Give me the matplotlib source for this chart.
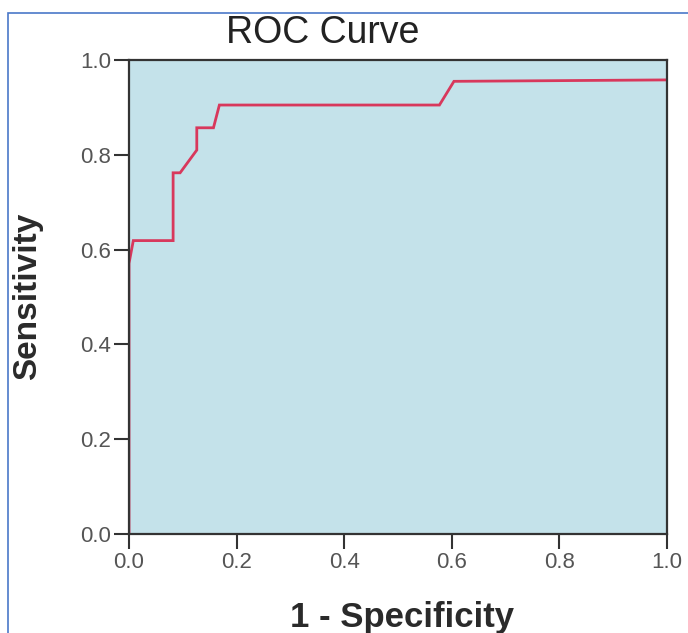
import matplotlib.pyplot as plt
from matplotlib.patches import Rectangle

# ROC curve points (1 - specificity, sensitivity)
fpr = [0.0, 0.0, 0.008, 0.082, 0.082, 0.095, 0.126, 0.126, 0.157, 0.168, 0.577, 0.604, 1.0]
tpr = [0.0, 0.571, 0.619, 0.619, 0.762, 0.762, 0.810, 0.857, 0.857, 0.905, 0.905, 0.955, 0.958]
ticks = [0.0, 0.2, 0.4, 0.6, 0.8, 1.0]
tick_labels = ["0.0", "0.2", "0.4", "0.6", "0.8", "1.0"]

plt.rcParams['font.family'] = ['Liberation Sans', 'DejaVu Sans']

fig = plt.figure(figsize=(6.88, 6.33), dpi=100)
ax = fig.add_axes([129 / 688, 1 - 534 / 633, 538 / 688, 474 / 633])
ax.set_facecolor("#c4e2ea")

ax.plot(fpr, tpr, color="#d8385c", lw=2.0, solid_joinstyle="miter")

ax.set_xlim(0, 1)
ax.set_ylim(0, 1)
ax.set_xticks(ticks)
ax.set_xticklabels(tick_labels)
ax.set_yticks(ticks)
ax.set_yticklabels(tick_labels)
ax.tick_params(direction="out", length=11, width=1.5, colors="#333333",
               labelcolor="#555555", labelsize=16, pad=2)
for s in ax.spines.values():
    s.set_color("#333333")
    s.set_linewidth(1.6)

fig.text(323 / 688, 1 - 43 / 633, "ROC Curve", fontsize=27, color="#222222",
         ha="center", va="baseline")
fig.text(12 / 688, 1 - 296 / 633, "Sensitivity", fontsize=24, fontweight="bold",
         color="#2a2a2a", rotation=90, ha="left", va="center")
fig.text(402 / 688, 6 / 633, "1 - Specificity", fontsize=25, fontweight="bold",
         color="#2a2a2a", ha="center", va="baseline")

# blue frame from the screenshot
fig.patches.append(Rectangle((8 / 688, -0.01), 1.0, 1 - 13 / 633 + 0.01,
                             transform=fig.transFigure, fill=False,
                             edgecolor="#4a78c8", lw=1.2))

fig.savefig("out.png", dpi=100)
